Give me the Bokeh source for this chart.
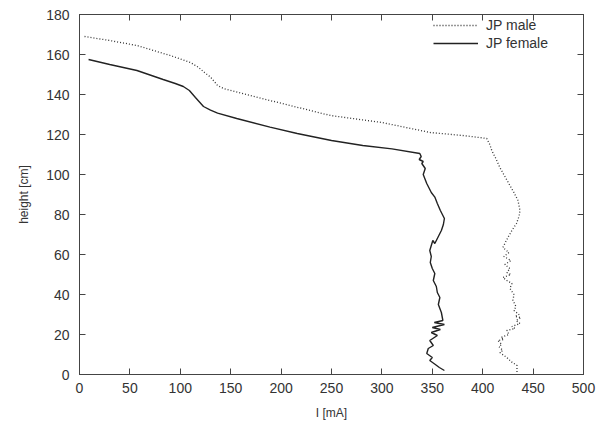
from bokeh.plotting import figure
from bokeh.models import Range1d, LinearAxis, Legend, LegendItem, FixedTicker
from bokeh.embed import file_html
from bokeh.resources import INLINE

# JP male (dotted)
male_I = [5, 30, 57, 90, 110, 118, 124, 130, 137, 143, 189, 249, 300, 348, 380, 400, 404,
          407, 409, 413, 417, 422, 427, 431, 435, 437, 436, 433.5, 429, 425, 422, 420,
          426, 421, 428, 422, 427, 424, 428, 420, 424, 429, 427, 431, 430, 433, 431,
          436, 432, 438, 433, 437, 429, 432, 424, 426, 418, 421, 415, 419, 416, 420,
          417, 421, 424, 428, 434, 434]
male_h = [169, 167, 164.5, 159.5, 156, 153.6, 151, 148.7, 144.5, 143, 137, 129.5, 126, 121, 119.5, 118.3, 118,
          115, 112, 108, 103.5, 99, 94.5, 91, 87, 82, 79, 75.5, 72, 68.5, 65.5, 63.5,
          61, 59, 57, 55, 53, 51, 50, 48.5, 47, 45.5, 43, 40, 37, 34, 32,
          30, 29, 28.5, 27, 25.5, 24, 23, 22, 20, 18.5, 17.5, 17, 15, 14, 12,
          11, 9.5, 8.5, 6.5, 4.5, 0]

# JP female (solid)
female_I = [9, 30, 57, 83, 95, 103, 109, 115, 123, 130, 137, 156, 189, 216, 250, 281, 310, 337.6,
            339, 337, 341, 339.6, 343, 341, 344.5, 347, 349, 352.5, 355, 358, 362, 361,
            359, 356, 352.5, 350.5, 347.5, 349, 348, 350, 352.5, 351, 354, 355, 357.5,
            356, 359, 360.5, 352, 362, 350, 358, 349, 355, 347.5, 351, 346, 344.5, 350,
            347.5, 353, 357, 362]
female_h = [157.5, 155, 152, 147.5, 145.5, 144, 142, 138.5, 134, 132.2, 130.7, 128, 123.7, 120.5, 117, 114.5, 112.8, 110.5,
            109, 107.5, 106.5, 105.5, 103, 100, 95.5, 93, 91, 88.7, 85.5, 82, 78, 75,
            72, 69, 65.5, 67, 62, 59, 56, 53, 50.5, 47, 44, 41, 38.5,
            35, 31, 27, 26, 25, 23.5, 22.5, 21, 19.5, 17, 14.5, 13, 10.5, 8.5,
            7, 5, 3.5, 2]

x_ticks = [0, 50, 100, 150, 200, 250, 300, 350, 400, 450, 500]
y_ticks = [0, 20, 40, 60, 80, 100, 120, 140, 160, 180]

FONT = "Liberation Sans"
TXT = "#333333"
AX = "#444444"

p = figure(width=603, height=430, output_backend="svg", toolbar_location=None,
           x_range=Range1d(0, 500), y_range=Range1d(0, 180),
           min_border_left=79, min_border_right=20, min_border_top=14, min_border_bottom=56)
p.outline_line_color = AX
p.outline_line_width = 1
p.xgrid.visible = False
p.ygrid.visible = False

r_male = p.line(male_I, male_h, line_color="#333333", line_width=1.3, line_dash="1 2")
r_female = p.line(female_I, female_h, line_color="#222222", line_width=1.4)

for ax, ticks in ((p.xaxis[0], x_ticks), (p.yaxis[0], y_ticks)):
    ax.ticker = FixedTicker(ticks=ticks)
    ax.major_tick_in = 6
    ax.major_tick_out = 0
    ax.minor_tick_line_color = None
    ax.axis_line_color = AX
    ax.major_tick_line_color = AX
    ax.major_label_text_font = FONT
    ax.major_label_text_font_size = "14px"
    ax.major_label_text_color = TXT
    ax.axis_label_text_font = FONT
    ax.axis_label_text_font_size = "12px"
    ax.axis_label_text_font_style = "normal"
    ax.axis_label_text_color = TXT

p.xaxis[0].axis_label = "I [mA]"
p.yaxis[0].axis_label = "height [cm]"
p.xaxis[0].major_label_standoff = 8
p.yaxis[0].major_label_standoff = 10
p.xaxis[0].axis_label_standoff = 10
p.yaxis[0].axis_label_standoff = 12

top = LinearAxis(ticker=FixedTicker(ticks=x_ticks), major_tick_in=6, major_tick_out=0,
                 minor_tick_line_color=None, major_label_text_color=None,
                 axis_line_color=AX, major_tick_line_color=AX)
right = LinearAxis(ticker=FixedTicker(ticks=y_ticks), major_tick_in=6, major_tick_out=0,
                   minor_tick_line_color=None, major_label_text_color=None,
                   axis_line_color=AX, major_tick_line_color=AX)
p.add_layout(top, "above")
p.add_layout(right, "right")

legend = Legend(items=[LegendItem(label="JP male", renderers=[r_male]),
                       LegendItem(label="JP female", renderers=[r_female])],
                location=(354, 322), border_line_color=None, background_fill_alpha=0,
                label_text_font=FONT, label_text_font_size="14px", label_text_color=TXT,
                glyph_width=45, glyph_height=18, label_height=18, spacing=0,
                padding=6, margin=0, label_standoff=8)
p.add_layout(legend)

open("out.html", "w").write(file_html(p, INLINE))
